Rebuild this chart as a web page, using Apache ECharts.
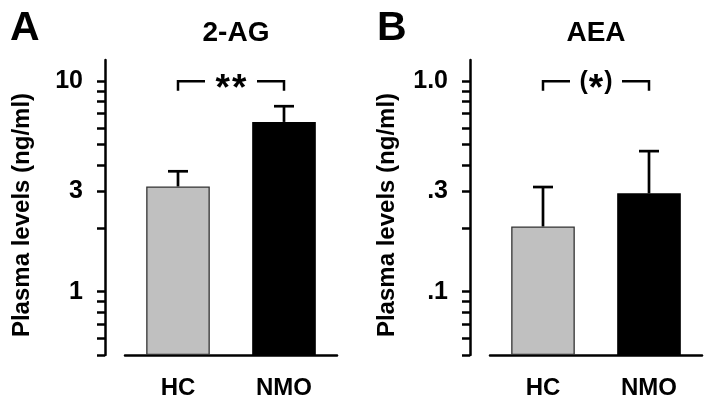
<!DOCTYPE html>
<html><head><meta charset="utf-8">
<script src="https://cdn.jsdelivr.net/npm/echarts@6/dist/echarts.min.js"></script>
<style>html,body{margin:0;padding:0;background:#fff}#c{width:710px;height:406px}</style>
</head><body><div id="c"></div>
<script>
// ---- data ----
const categories = ['HC', 'NMO'];
const panelLetters = ['A', 'B'];
const panelTitles = ['2-AG', 'AEA'];
const yAxisName = 'Plasma levels (ng/ml)';

const agMeans = [3.16, 6.4];
const agErrTops = [3.73, 7.6];
const aeaMeans = [0.204, 0.293];
const aeaErrTops = [0.314, 0.465];

const agRange = [0.5, 12.6];
const aeaRange = [0.05, 1.26];

const agLabelValues = [1, 3, 10];
const agLabelTexts = ['1', '3', '10'];
const aeaLabelValues = [0.1, 0.3, 1.0];
const aeaLabelTexts = ['.1', '.3', '1.0'];

const agTickValues = [0.5, 0.6, 0.7, 0.8, 0.9, 1, 2, 3, 4, 5, 6, 7, 8, 9, 10];
const aeaTickValues = [0.05, 0.06, 0.07, 0.08, 0.09, 0.1, 0.2, 0.3, 0.4, 0.5, 0.6, 0.7, 0.8, 0.9, 1.0];

const sigLabels = ['**', '(*)'];
const agBracket = [10, 9];     // bracket line level, bracket leg end
const aeaBracket = [1.0, 0.9];

const barColors = ['#c0c0c0', '#000000'];

// ---- chart ----
const FONT = '"Liberation Sans", Arial, sans-serif';
const chart = echarts.init(document.getElementById('c'), null, {renderer: 'canvas'});

const panels = [
  {means: agMeans, errs: agErrTops, range: agRange, lv: agLabelValues, lt: agLabelTexts, tv: agTickValues, br: agBracket, sig: sigLabels[0], left: 125, titleX: 231, letterX: 5},
  {means: aeaMeans, errs: aeaErrTops, range: aeaRange, lv: aeaLabelValues, lt: aeaLabelTexts, tv: aeaTickValues, br: aeaBracket, sig: sigLabels[1], left: 490, titleX: 591, letterX: 372}
];

const grids = [], xAxes = [], yAxes = [], series = [], titles = [];

function richSig(s) {
  return s.split('').map(ch => ch === '*' ? '{s|*}' : '{p|' + ch + '}').join('');
}

panels.forEach((p, i) => {
  grids.push({left: p.left, top: 60, width: 212, height: 295});
  titles.push({text: panelTitles[i], left: p.titleX, top: 14, textAlign: 'center',
    textStyle: {fontFamily: FONT, fontSize: 28, fontWeight: 'bold', color: '#000'}});
  titles.push({text: panelLetters[i], left: p.letterX, top: 3,
    textStyle: {fontFamily: FONT, fontSize: 41, fontWeight: 'bold', color: '#000'}});
  xAxes.push({
    type: 'category', gridIndex: i, data: categories, position: 'bottom',
    axisLine: {onZero: false, lineStyle: {color: '#000', width: 2.5}},
    axisTick: {alignWithLabel: true, length: 7, lineStyle: {color: '#000', width: 2.5}},
    axisLabel: {fontFamily: FONT, fontSize: 24, fontWeight: 'bold', color: '#000', margin: 21},
    splitLine: {show: false}
  });
  const lt = p.lt, lv = p.lv;
  yAxes.push({
    type: 'log', logBase: 10, gridIndex: i, min: p.range[0], max: p.range[1], startValue: p.range[0],
    offset: 20,
    name: yAxisName, nameLocation: 'middle', nameRotate: 90, nameGap: 71,
    nameTextStyle: {fontFamily: FONT, fontSize: 24, fontWeight: 'bold', color: '#000', padding: [0, 15, 0, 0]},
    axisLine: {show: true, lineStyle: {color: '#000', width: 2.5}},
    axisTick: {show: true, length: 8, customValues: p.tv, lineStyle: {color: '#000', width: 2.5}},
    axisLabel: {fontFamily: FONT, fontSize: 25, fontWeight: 'bold', color: '#000', margin: 22,
      customValues: lv,
      formatter: v => { for (let k = 0; k < lv.length; k++) { if (Math.abs(v - lv[k]) < 1e-9 * Math.max(1, lv[k])) return lt[k]; } return ''; }},
    splitLine: {show: false}, minorTick: {show: false}
  });
  series.push({
    type: 'bar', xAxisIndex: i, yAxisIndex: i, barWidth: '60%',
    data: p.means.map((m, k) => ({value: m, itemStyle: {color: barColors[k], borderColor: k === 0 ? '#333' : '#000', borderWidth: 1.3}})),
    z: 2, silent: true
  });
  series.push({
    type: 'custom', xAxisIndex: i, yAxisIndex: i, z: 3, silent: true,
    encode: {x: 0, y: [1, 2]},
    data: p.means.map((m, k) => [k, m, p.errs[k]]),
    renderItem: (params, api) => {
      const x = api.value(0);
      const lo = api.coord([x, api.value(1)]);
      const hi = api.coord([x, api.value(2)]);
      const st = {stroke: '#000', lineWidth: 2.7};
      return {type: 'group', children: [
        {type: 'line', shape: {x1: lo[0], y1: lo[1], x2: hi[0], y2: hi[1]}, style: st},
        {type: 'line', shape: {x1: hi[0] - 10, y1: hi[1], x2: hi[0] + 10, y2: hi[1]}, style: st}
      ]};
    }
  });
  series.push({
    type: 'custom', xAxisIndex: i, yAxisIndex: i, z: 3, silent: true, clip: false,
    encode: {x: 0, y: 2},
    data: [[0, 1, p.br[0], p.br[1]]],
    renderItem: (params, api) => {
      const a0 = api.coord([api.value(0), api.value(2)]);
      const a1 = api.coord([api.value(1), api.value(2)]);
      const b0 = api.coord([api.value(0), api.value(3)]);
      const b1 = api.coord([api.value(1), api.value(3)]);
      const mid = (a0[0] + a1[0]) / 2, gap = 26;
      const st = {stroke: '#000', lineWidth: 2.5, fill: null};
      return {type: 'group', children: [
        {type: 'polyline', shape: {points: [[b0[0], b0[1]], [a0[0], a0[1]], [mid - gap, a0[1]]]}, style: st},
        {type: 'polyline', shape: {points: [[mid + gap, a1[1]], [a1[0], a1[1]], [b1[0], b1[1]]]}, style: st},
        {type: 'text', x: mid, y: a0[1] + 1, style: {
          text: richSig(p.sig), align: 'center', verticalAlign: 'middle', fill: '#000',
          rich: {
            s: {fontFamily: FONT, fontSize: 37, fontWeight: 'bold', fill: '#000', padding: [16, 1, 0, 1]},
            p: {fontFamily: FONT, fontSize: 25, fontWeight: 'bold', fill: '#000'}
          }
        }}
      ]};
    }
  });
});

chart.setOption({
  backgroundColor: '#fff',
  animation: false,
  title: titles,
  grid: grids,
  xAxis: xAxes,
  yAxis: yAxes,
  series: series
});
</script>
</body></html>
